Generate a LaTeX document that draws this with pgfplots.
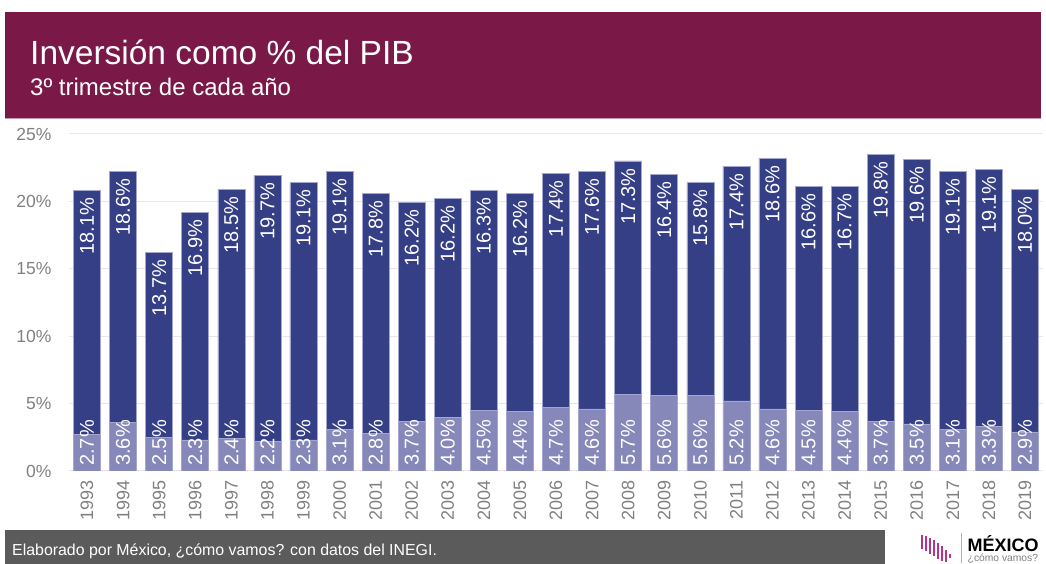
\documentclass[border=0pt]{standalone}
\usepackage{fontspec}
\setmainfont{Liberation Sans}
\usepackage{pgfplots}
\pgfplotsset{compat=1.18}
\usepackage{pgfplotstable}
\definecolor{maroon}{HTML}{7A1848}
\definecolor{navy}{HTML}{353F86}
\definecolor{lav}{HTML}{8588B8}
\definecolor{lavedge}{HTML}{A3A7CF}
\definecolor{gridc}{HTML}{E7E7E7}
\definecolor{tickc}{HTML}{808080}
\definecolor{foot}{HTML}{5B5B5B}
\definecolor{mag}{HTML}{B4338F}

\pgfplotstableread{
x year pub priv
0 1993 2.7 18.1
1 1994 3.6 18.6
2 1995 2.5 13.7
3 1996 2.3 16.9
4 1997 2.4 18.5
5 1998 2.2 19.7
6 1999 2.3 19.1
7 2000 3.1 19.1
8 2001 2.8 17.8
9 2002 3.7 16.2
10 2003 4.0 16.2
11 2004 4.5 16.3
12 2005 4.4 16.2
13 2006 4.7 17.4
14 2007 4.6 17.6
15 2008 5.7 17.3
16 2009 5.6 16.4
17 2010 5.6 15.8
18 2011 5.2 17.4
19 2012 4.6 18.6
20 2013 4.5 16.6
21 2014 4.4 16.7
22 2015 3.7 19.8
23 2016 3.5 19.6
24 2017 3.1 19.1
25 2018 3.3 19.1
26 2019 2.9 18.0
}\data

\begin{document}
\begin{tikzpicture}
\begin{axis}[
 scale only axis, width=974pt, height=337pt,
 xmin=-0.5, xmax=26.5, ymin=0, ymax=25,
 ybar stacked, bar width=27pt,
 axis line style={draw=none},
 ytick={0,5,...,25},
 yticklabel={\pgfmathprintnumber{\tick}\%},
 ymajorgrids, grid style={gridc, line width=1pt},
 major tick length=0pt,
 xtick=data, xticklabels from table={\data}{year},
 xticklabel style={yshift=-6pt, rotate=90, anchor=east, text=tickc, font=\fontsize{18}{20}\selectfont},
 yticklabel style={xshift=-14pt, text=tickc, font=\fontsize{17.5}{20}\selectfont},
 /pgf/number format/assume math mode=true,
 point meta=explicit,
 nodes near coords={\pgfmathprintnumber[fixed,fixed zerofill,precision=1]{\pgfplotspointmeta}\%},
 every node near coord/.append style={text=white, font=\fontsize{20}{22}\selectfont},
]
\addplot[fill=lav, draw=lavedge, line width=0.6pt,
  visualization depends on={\thisrow{pub} \as \pv},
  nodes near coords style={yshift=-\pv*6.74pt+5pt, rotate=90, anchor=west, inner xsep=0pt}]
  table[x=x, y=pub, meta=pub]{\data};
\addplot[fill=navy, draw=lavedge, line width=0.6pt,
  visualization depends on={\thisrow{priv} \as \qv},
  nodes near coords style={yshift=\qv*6.74pt-7pt, rotate=90, anchor=east, inner xsep=0pt}]
  table[x=x, y=priv, meta=priv]{\data};
\coordinate (O) at (rel axis cs:0,0);
\end{axis}

\begin{scope}[shift={(O)}, xshift=-69pt, yshift=-93pt, x=1pt, y=1pt]
\pgfresetboundingbox
\path[use as bounding box] (0,0) rectangle (1046,564);
% header
\fill[maroon] (5,446) rectangle (1041,552);
\fill[maroon!45!white] (5,444.5) rectangle (1041,446);
\node[anchor=base west, text=white, font=\fontsize{33.5}{40}\selectfont, inner sep=0] at (30,499) {Inversión como \% del PIB};
\node[anchor=base west, text=white, font=\fontsize{24}{28}\selectfont, inner sep=0] at (30,468) {3º trimestre de cada año};

% footer
\fill[foot] (5,0) rectangle (885,34);
\node[anchor=west, text=white, font=\fontsize{15.9}{18}\selectfont, inner sep=0] at (12,13) {Elaborado por México, ¿cómo vamos? con datos del INEGI.};

% logo
\foreach \xa/\yt/\yb in {920.5/29/15, 924.5/28/13, 928.5/26/10, 932.5/24/8, 936.5/21/5, 940.5/18/3, 944.5/14/2, 948.5/10/6}{
  \fill[mag] (\xa,\yb) rectangle (\xa+2.7,\yt);
}
\draw[gray!60, line width=0.8pt] (961,1) -- (961,31);
\node[anchor=base west, inner sep=0, font=\fontsize{18}{20}\selectfont\bfseries] at (967.5,12.5) {MÉXICO};
\node[anchor=base west, inner sep=0, text=gray, font=\fontsize{10.3}{12}\selectfont] at (967.5,2) {¿cómo vamos?};
\end{scope}
\end{tikzpicture}
\end{document}
